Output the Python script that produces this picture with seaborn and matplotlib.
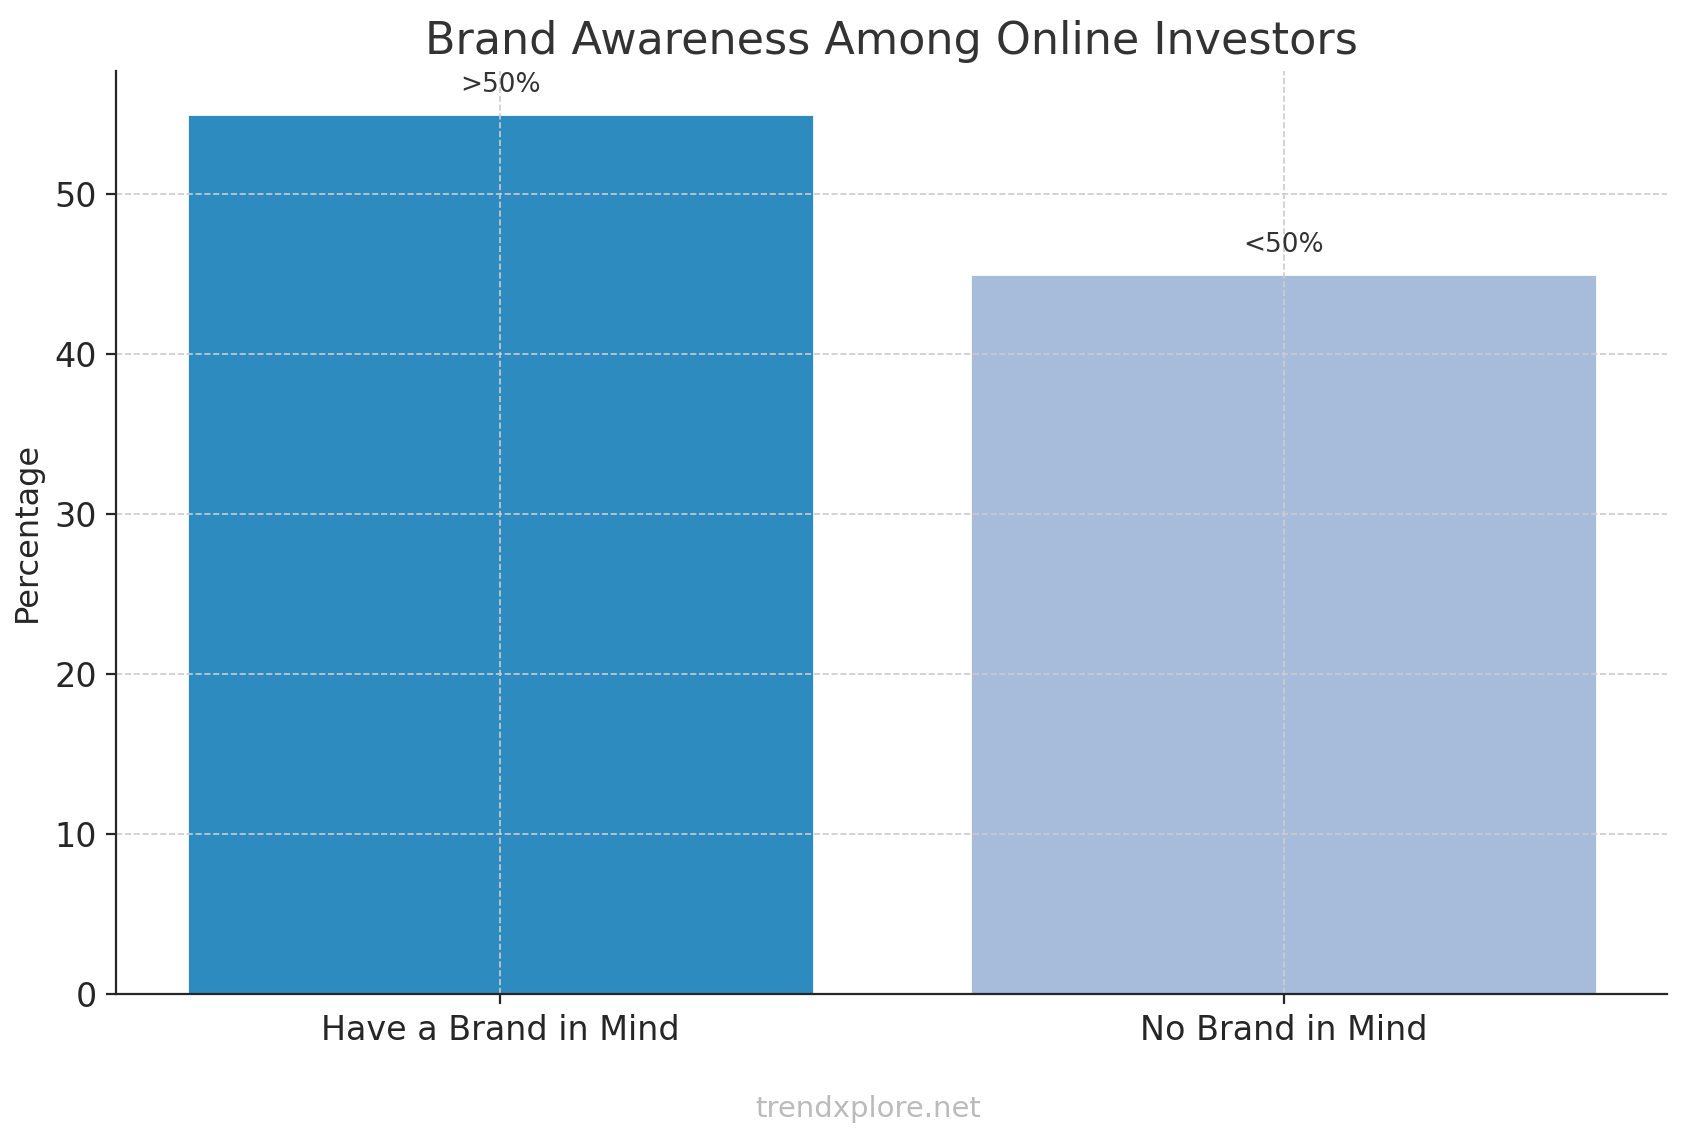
import matplotlib
matplotlib.use("Agg")
import matplotlib.pyplot as plt
import seaborn as sns
import pandas as pd

categories = ["Have a Brand in Mind", "No Brand in Mind"]
values = [55, 45]
labels = [">50%", "<50%"]
colors = ["#2E8BC0", "#A7BCDA"]

sns.set_style("ticks")
plt.rcParams['font.family'] = ['DejaVu Sans']
df = pd.DataFrame({"cat": categories, "val": values})

fig = plt.figure(figsize=(8.43, 5.7), dpi=200)
ax = fig.add_axes([0.069, 0.128, 0.92, 0.81])
sns.barplot(data=df, x="cat", y="val", hue="cat", palette=colors, width=0.8,
            saturation=1, legend=False, ax=ax)
ax.set_xlim(-0.49, 1.49)
ax.set_ylim(0, 57.7)
ax.set_axisbelow(False)
ax.grid(True, linestyle="--", color="#cccccc", linewidth=0.6)
for s in ["top", "right"]:
    ax.spines[s].set_visible(False)
for s in ["left", "bottom"]:
    ax.spines[s].set_zorder(5)
ax.set_xlabel("")
ax.set_ylabel("Percentage", fontsize=11.5)
ax.tick_params(labelsize=12)
for i, (v, l) in enumerate(zip(values, labels)):
    ax.text(i, v + 1, l, ha="center", va="bottom", fontsize=9.5, color="#333333")
ax.set_title("Brand Awareness Among Online Investors", fontsize=16, color="#333333")
fig.text(0.515, 0.02, "trendxplore.net", ha="center", fontsize=10.5, color="#bbbbbb")
fig.savefig("out.png", dpi=200)
